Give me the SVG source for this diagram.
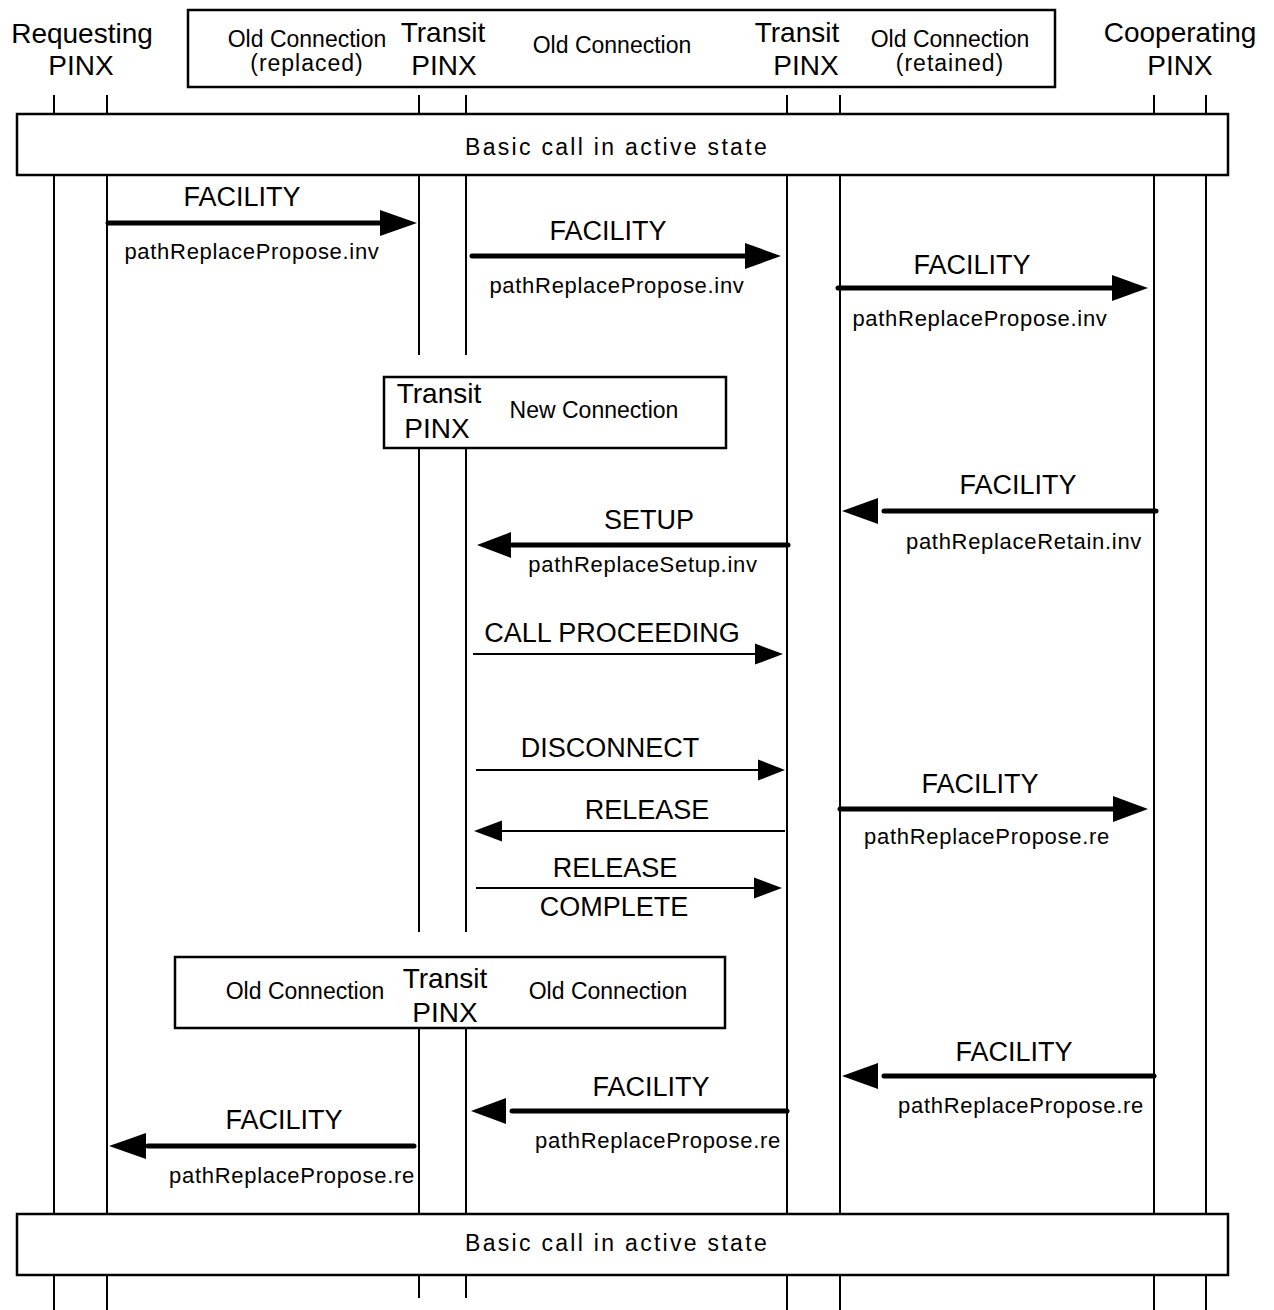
<svg xmlns="http://www.w3.org/2000/svg" width="1274" height="1310" viewBox="0 0 1274 1310">
<style>
text{font-family:"Liberation Sans",Arial,sans-serif;fill:#000;text-anchor:middle}
.hd{font-size:28px}
.sm{font-size:23px}
.lb{font-size:27px}
.sub{font-size:22px;letter-spacing:0.7px}
.st{font-size:23px;letter-spacing:2.3px}
.box{fill:#fff;stroke:#000;stroke-width:2.5}
.life{stroke:#000;stroke-width:2;fill:none}
.thick{stroke:#000;stroke-width:5;stroke-linecap:round;fill:none}
.thin{stroke:#000;stroke-width:2.2;fill:none}
.head{fill:#000}
</style>
<rect width="1274" height="1310" fill="#fff"/>
<g id="lifelines">
<path class="life" d="M54 95V114M107 95V114M419 95V114M466 95V114M787 95V114M840 95V114M1154 95V114M1206 95V114"/>
<path class="life" d="M54 175V1214M107 175V1214M787 175V1214M840 175V1214M1154 175V1214M1206 175V1214"/>
<path class="life" d="M419 175V355M466 175V355M419 448V932M466 448V932M419 1028V1214M466 1028V1214"/>
<path class="life" d="M54 1275V1310M107 1275V1310M787 1275V1310M840 1275V1310M1154 1275V1310M1206 1275V1310M419 1275V1298M466 1275V1298"/>
</g>
<g id="requesting">
<text class="hd" x="82" y="43">Requesting</text>
<text class="hd" x="81" y="75">PINX</text>
</g>
<g id="cooperating">
<text class="hd" x="1180" y="42">Cooperating</text>
<text class="hd" x="1180" y="75">PINX</text>
</g>
<g id="old-connection-top">
<rect class="box" x="188" y="10" width="867" height="77"/>
<text class="sm" x="307" y="47">Old Connection</text>
<text class="sm" x="307" y="71" style="letter-spacing:1px">(replaced)</text>
<text class="hd" x="443" y="42">Transit</text>
<text class="hd" x="444" y="75">PINX</text>
<text class="sm" x="612" y="53">Old Connection</text>
<text class="hd" x="797" y="42">Transit</text>
<text class="hd" x="806" y="75">PINX</text>
<text class="sm" x="950" y="47">Old Connection</text>
<text class="sm" x="950" y="71" style="letter-spacing:1px">(retained)</text>
</g>
<g id="basic-call-1">
<rect class="box" x="17" y="114" width="1211" height="61"/>
<text class="st" x="617" y="155">Basic call in active state</text>
</g>
<g id="new-connection">
<rect class="box" x="384" y="377" width="342" height="71"/>
<text class="hd" x="439" y="403">Transit</text>
<text class="hd" x="437" y="438">PINX</text>
<text class="sm" x="594" y="418">New Connection</text>
</g>
<g id="old-connection-bottom">
<rect class="box" x="175" y="957" width="550" height="71"/>
<text class="sm" x="305" y="999">Old Connection</text>
<text class="hd" x="445" y="988">Transit</text>
<text class="hd" x="445" y="1022">PINX</text>
<text class="sm" x="608" y="999">Old Connection</text>
</g>
<g id="basic-call-2">
<rect class="box" x="17" y="1214" width="1211" height="61"/>
<text class="st" x="617" y="1251">Basic call in active state</text>
</g>
<g id="connectors">
<path class="thick" d="M108 223H380"/><polygon class="head" points="417,223 380,210 380,236"/>
<text class="lb" x="242" y="206">FACILITY</text>
<text class="sub" x="252" y="259">pathReplacePropose.inv</text>

<path class="thick" d="M472 256H745"/><polygon class="head" points="781,256 745,243 745,269"/>
<text class="lb" x="608" y="240">FACILITY</text>
<text class="sub" x="617" y="293">pathReplacePropose.inv</text>

<path class="thick" d="M838 288H1112"/><polygon class="head" points="1148,288 1112,275 1112,301"/>
<text class="lb" x="972" y="274">FACILITY</text>
<text class="sub" x="980" y="326">pathReplacePropose.inv</text>

<path class="thick" d="M1156 511H884"/><polygon class="head" points="842,511 878,498 878,524"/>
<text class="lb" x="1018" y="494">FACILITY</text>
<text class="sub" x="1024" y="549">pathReplaceRetain.inv</text>

<path class="thick" d="M788 545H512"/><polygon class="head" points="477,545 511,532 511,558"/>
<text class="lb" x="649" y="529">SETUP</text>
<text class="sub" x="643" y="572">pathReplaceSetup.inv</text>

<path class="thin" d="M473 654H756"/><polygon class="head" points="783,654 755,643.5 755,664.5"/>
<text class="lb" x="612" y="642">CALL PROCEEDING</text>

<path class="thin" d="M476 770H759"/><polygon class="head" points="785,770 758,759.5 758,780.5"/>
<text class="lb" x="610" y="757">DISCONNECT</text>

<path class="thin" d="M785 831H501"/><polygon class="head" points="474,831 502,820.5 502,841.5"/>
<text class="lb" x="647" y="819">RELEASE</text>

<path class="thin" d="M476 888H755"/><polygon class="head" points="782,888 754,877.5 754,898.5"/>
<text class="lb" x="615" y="877">RELEASE</text>
<text class="lb" x="614" y="916">COMPLETE</text>

<path class="thick" d="M840 809H1113"/><polygon class="head" points="1148,809 1113,796 1113,822"/>
<text class="lb" x="980" y="793">FACILITY</text>
<text class="sub" x="987" y="844">pathReplacePropose.re</text>

<path class="thick" d="M1154 1076H884"/><polygon class="head" points="842,1076 878,1063 878,1089"/>
<text class="lb" x="1014" y="1061">FACILITY</text>
<text class="sub" x="1021" y="1113">pathReplacePropose.re</text>

<path class="thick" d="M787 1111H512"/><polygon class="head" points="471,1111 506,1098 506,1124"/>
<text class="lb" x="651" y="1096">FACILITY</text>
<text class="sub" x="658" y="1148">pathReplacePropose.re</text>

<path class="thick" d="M414 1146H148"/><polygon class="head" points="109,1146 146,1133 146,1159"/>
<text class="lb" x="284" y="1129">FACILITY</text>
<text class="sub" x="292" y="1183">pathReplacePropose.re</text>
</g>
</svg>
